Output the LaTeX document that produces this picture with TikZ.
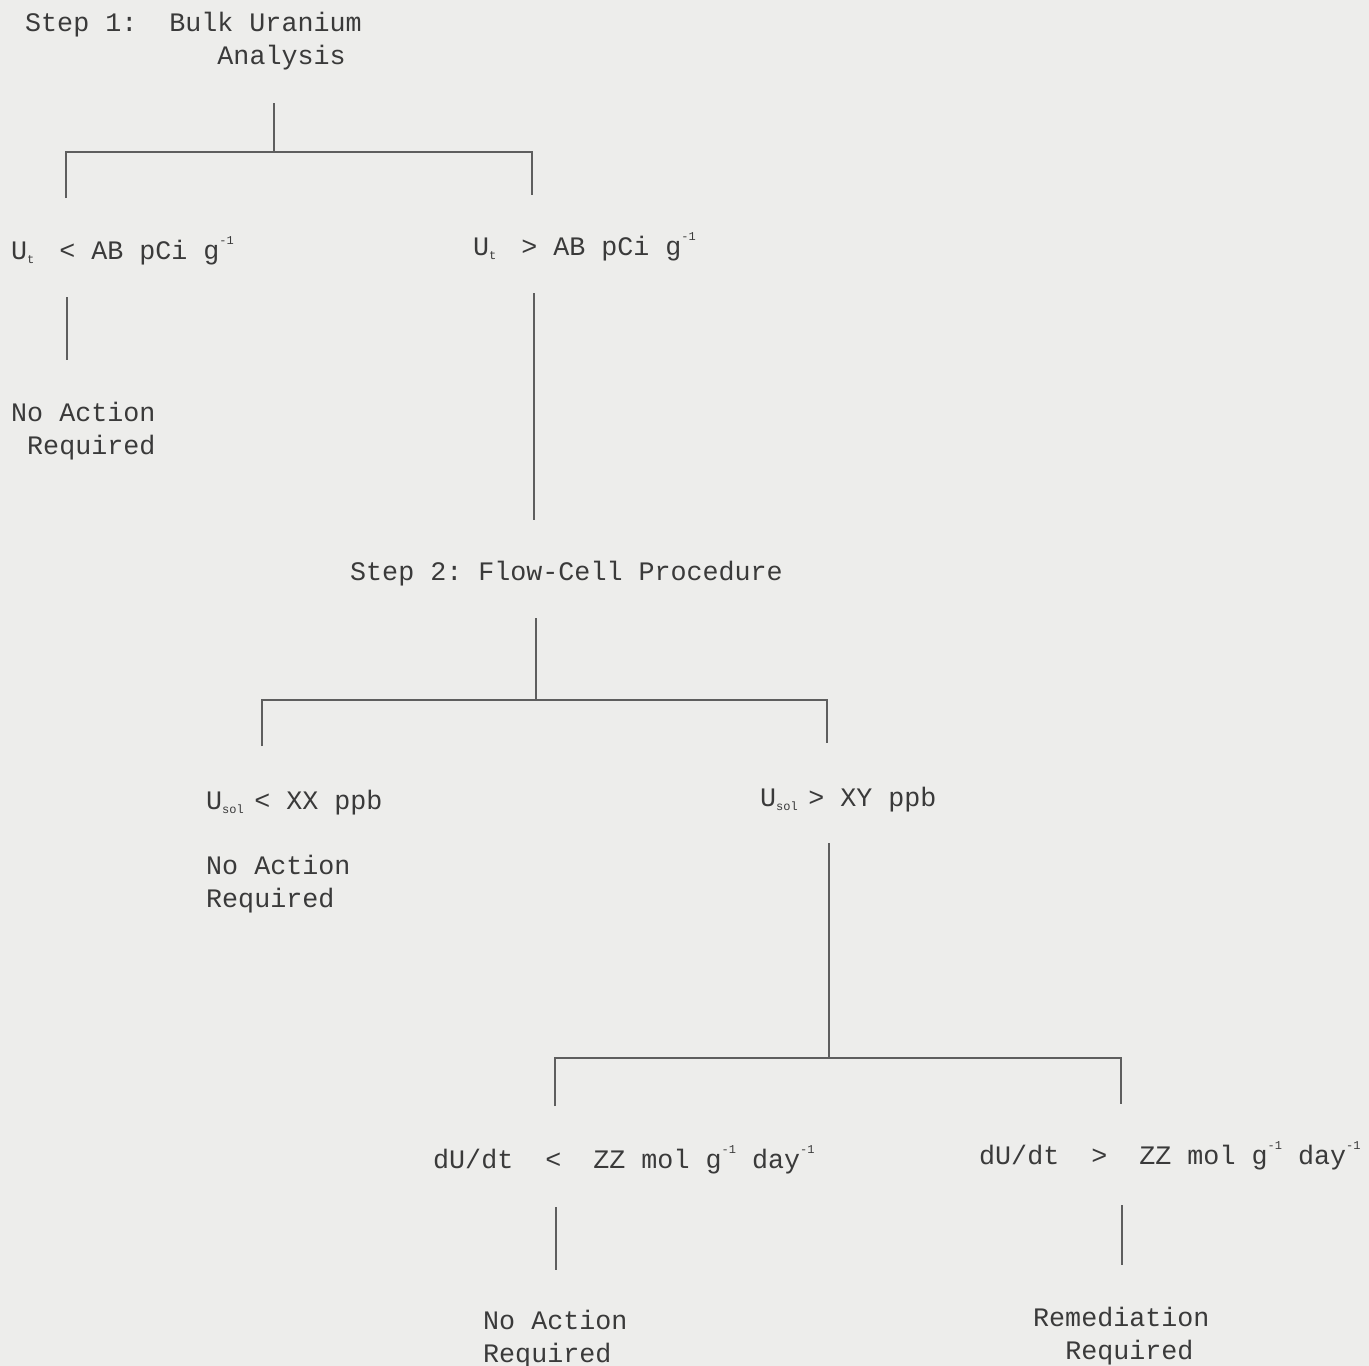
\documentclass[tikz,border=0pt]{standalone}
\usepackage{fontspec}
\setmainfont{Liberation Mono}
\frenchspacing
\definecolor{bg}{HTML}{EDEDEB}
\definecolor{ink}{HTML}{3A3A3A}
\definecolor{wire}{HTML}{5E5E5E}
\newcommand\subc[1]{\makebox[0.6em][l]{\raisebox{-0.15em}{\fontsize{12}{12}\selectfont #1}}}
\newcommand\supc[1]{\raisebox{0.55em}{\fontsize{12}{12}\selectfont #1}}
\begin{document}
\begin{tikzpicture}[x=1pt,y=-1pt,
  lbl/.style={text=ink,inner sep=0pt,anchor=base west,align=left,
    font=\fontsize{26.7}{33}\selectfont},
  wireline/.style={draw=wire,line width=1.6pt}]
\useasboundingbox[fill=bg] (0,0) rectangle (1369,1366);
% texts (multi-line nodes: base = baseline of last line)
\node[lbl] (s1) at (25,64) {Step 1:~~Bulk Uranium\\\phantom{Step 1:~~Bul}Analysis};
\node[lbl] (l1) at (11,259) {U\subc{t} < AB pCi g\supc{-1}};
\node[lbl] (r1) at (473,255) {U\subc{t} > AB pCi g\supc{-1}};
\node[lbl] (na1) at (11,454) {No Action\\~Required};
\node[lbl] (s2) at (350,580) {Step 2: Flow-Cell Procedure};
\node[lbl] (l2) at (206,809) {U\subc{sol} < XX ppb};
\node[lbl] (r2) at (760,806) {U\subc{sol} > XY ppb};
\node[lbl] (na2) at (206,907) {No Action\\Required};
\node[lbl] (l3) at (433,1168) {dU/dt~~<~~ZZ mol g\supc{-1} day\supc{-1}};
\node[lbl] (r3) at (979,1164) {dU/dt~~>~~ZZ mol g\supc{-1} day\supc{-1}};
\node[lbl] (na3) at (483,1362) {No Action\\Required};
\node[lbl] (rem) at (1033,1359) {Remediation\\~~Required};
% connector points
\coordinate (a1) at (274,103); \coordinate (j1) at (274,152);
\coordinate (a2) at (66,198);  \coordinate (a3) at (532,195);
\coordinate (b1) at (67,297);  \coordinate (b2) at (67,360);
\coordinate (c1) at (534,293); \coordinate (c2) at (534,520);
\coordinate (d1) at (536,618); \coordinate (j2) at (536,700);
\coordinate (d2) at (262,746); \coordinate (d3) at (827,743);
\coordinate (e1) at (829,843); \coordinate (j3) at (829,1058);
\coordinate (e2) at (555,1106); \coordinate (e3) at (1121,1104);
\coordinate (f1) at (556,1207); \coordinate (f2) at (556,1270);
\coordinate (g1) at (1122,1205); \coordinate (g2) at (1122,1265);
% connectors
\draw[wireline] (a1) -- (j1);
\draw[wireline] (a2) -- (a2 |- j1) -- (a3 |- j1) -- (a3);
\draw[wireline] (b1) -- (b2);
\draw[wireline] (c1) -- (c2);
\draw[wireline] (d1) -- (j2);
\draw[wireline] (d2) -- (d2 |- j2) -- (d3 |- j2) -- (d3);
\draw[wireline] (e1) -- (j3);
\draw[wireline] (e2) -- (e2 |- j3) -- (e3 |- j3) -- (e3);
\draw[wireline] (f1) -- (f2);
\draw[wireline] (g1) -- (g2);
\end{tikzpicture}
\end{document}
